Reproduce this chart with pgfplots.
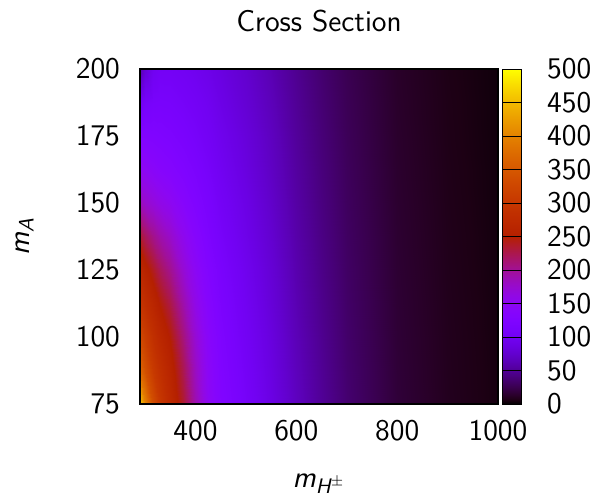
\documentclass[border=0pt]{standalone}
\usepackage{pgfplots}
\pgfplotsset{compat=1.18}
\pgfplotsset{
  myfont/.style={font=\sffamily\fontsize{15}{18}\selectfont,
    tick label style={font=\sffamily\fontsize{15}{18}\selectfont},
    /pgf/number format/assume math mode=true,
    /pgf/number format/set thousands separator={}},
}
\begin{document}
\begin{tikzpicture}
\useasboundingbox (-70pt,-45.5pt) rectangle (228.5pt,202pt);
\begin{axis}[
  myfont,
  at={(0,0)}, anchor=south west,
  scale only axis, width=179pt, height=167.5pt,
  xmin=290, xmax=1000, ymin=75, ymax=200,
  xtick={400,600,800,1000}, ytick={75,100,...,200},
  major tick length=0pt,
  xticklabel style={yshift=-4.5pt},
  yticklabel style={xshift=-6.5pt},
  title={Cross Section},
  title style={at={(axis description cs:0.5,1)}, anchor=base, yshift=13pt},
  xlabel={\itshape m\textsubscript{\itshape H$^{\pm}$}},
  xlabel style={at={(axis description cs:0.5,-0.2478)}, anchor=base},
  ylabel={\itshape m\textsubscript{\itshape A}},
  ylabel style={at={(axis description cs:-0.31,0.5)}, anchor=base},
  colormap={gp}{
    rgb(0pt)=(0,0,0) rgb(1pt)=(0.112,0,0.078) rgb(2pt)=(0.158,0,0.156)
    rgb(4pt)=(0.224,0,0.309) rgb(6pt)=(0.274,0,0.454) rgb(8pt)=(0.316,0.001,0.588)
    rgb(10pt)=(0.354,0.002,0.707) rgb(12pt)=(0.387,0.003,0.809) rgb(14pt)=(0.418,0.005,0.891)
    rgb(16pt)=(0.447,0.008,0.951) rgb(18pt)=(0.474,0.011,0.988) rgb(20pt)=(0.5,0.016,1)
    rgb(22pt)=(0.524,0.021,0.988) rgb(24pt)=(0.548,0.027,0.951) rgb(26pt)=(0.570,0.034,0.891)
    rgb(28pt)=(0.592,0.043,0.809) rgb(30pt)=(0.612,0.053,0.707) rgb(32pt)=(0.632,0.064,0.588)
    rgb(34pt)=(0.652,0.077,0.454) rgb(36pt)=(0.671,0.091,0.309) rgb(38pt)=(0.689,0.107,0.156)
    rgb(40pt)=(0.707,0.125,0) rgb(42pt)=(0.725,0.145,0) rgb(44pt)=(0.742,0.166,0)
    rgb(46pt)=(0.758,0.190,0) rgb(48pt)=(0.775,0.216,0) rgb(50pt)=(0.791,0.244,0)
    rgb(52pt)=(0.806,0.275,0) rgb(54pt)=(0.822,0.308,0) rgb(56pt)=(0.837,0.343,0)
    rgb(58pt)=(0.852,0.381,0) rgb(60pt)=(0.866,0.422,0) rgb(62pt)=(0.880,0.466,0)
    rgb(64pt)=(0.894,0.512,0) rgb(66pt)=(0.908,0.562,0) rgb(68pt)=(0.922,0.614,0)
    rgb(70pt)=(0.935,0.670,0) rgb(72pt)=(0.949,0.729,0) rgb(74pt)=(0.962,0.792,0)
    rgb(76pt)=(0.975,0.857,0) rgb(78pt)=(0.987,0.927,0) rgb(80pt)=(1,1,0)
  },
  point meta min=0, point meta max=500,
  colorbar,
  colorbar style={
    myfont,
    at={(parent axis.north east)}, anchor=north west, xshift=-6.5pt,
    scale only axis, width=9.5pt, height=167.5pt,
    ymin=0, ymax=500, ytick={0,50,...,500},
    ymajorgrids, grid style={black, line width=0.5pt},
    major tick length=0pt,
    yticklabel style={xshift=9.5pt, anchor=west},
    axis on top,
  },
  axis on top,
  axis line style={line width=0.8pt},
]
\addplot[surf, shader=interp, mesh/cols=17, point meta=explicit] table[x=x, y=y, meta=v] {
x y v
290 75 460
300 75 400
315 75 335
330 75 300
350 75 272
375 75 235
400 75 190
425 75 150
450 75 128
500 75 108
550 75 88
600 75 68
650 75 50
700 75 36
800 75 18
900 75 9.5
1000 75 5
290 87.5 370
300 87.5 340
315 87.5 305
330 87.5 285
350 87.5 262
375 87.5 225
400 87.5 182
425 87.5 146
450 87.5 125
500 87.5 105
550 87.5 86
600 87.5 66
650 87.5 49
700 87.5 35
800 87.5 17.5
900 87.5 9.2
1000 87.5 4.9
290 100 330
300 100 310
315 100 285
330 100 268
350 100 248
375 100 210
400 100 172
425 100 141
450 100 122
500 100 102
550 100 84
600 100 64
650 100 47.5
700 100 34
800 100 17
900 100 9
1000 100 4.7
290 112.5 295
300 112.5 283
315 112.5 265
330 112.5 248
350 112.5 228
375 112.5 192
400 112.5 160
425 112.5 135
450 112.5 118
500 112.5 99
550 112.5 81
600 112.5 62
650 112.5 46
700 112.5 33
800 112.5 16.5
900 112.5 8.7
1000 112.5 4.6
290 125 270
300 125 258
315 125 240
330 125 222
350 125 203
375 125 172
400 125 148
425 125 128
450 125 114
500 125 96
550 125 79
600 125 60
650 125 44.5
700 125 32
800 125 16
900 125 8.4
1000 125 4.4
290 137.5 235
300 137.5 222
315 137.5 205
330 137.5 192
350 137.5 178
375 137.5 155
400 137.5 137
425 137.5 121
450 137.5 109
500 137.5 92
550 137.5 76
600 137.5 58
650 137.5 43
700 137.5 31
800 137.5 15.5
900 137.5 8.1
1000 137.5 4.3
290 150 185
300 150 176
315 150 168
330 150 160
350 150 152
375 150 138
400 150 126
425 150 115
450 150 104
500 150 89
550 150 73
600 150 56
650 150 41.5
700 150 30
800 150 15
900 150 7.8
1000 150 4.1
290 162.5 152
300 162.5 150
315 162.5 143
330 162.5 138
350 162.5 133
375 162.5 125
400 162.5 118
425 162.5 109
450 162.5 99
500 162.5 85
550 162.5 70
600 162.5 54
650 162.5 40
700 162.5 29
800 162.5 14.5
900 162.5 7.5
1000 162.5 4
290 175 128
300 175 128
315 175 126
330 175 124
350 175 121
375 175 116
400 175 110
425 175 103
450 175 95
500 175 82
550 175 68
600 175 52
650 175 38.5
700 175 28
800 175 14
900 175 7.2
1000 175 3.8
290 187.5 100
300 187.5 108
315 187.5 112
330 187.5 113
350 187.5 112
375 187.5 108
400 187.5 104
425 187.5 98
450 187.5 90
500 187.5 78
550 187.5 65
600 187.5 50
650 187.5 37
700 187.5 27
800 187.5 13.5
900 187.5 7
1000 187.5 3.7
290 200 60
300 200 80
315 200 98
330 200 104
350 200 104
375 200 101
400 200 97
425 200 92
450 200 86
500 200 75
550 200 62
600 200 48
650 200 35.5
700 200 26
800 200 13
900 200 6.7
1000 200 3.6
};
\end{axis}
\end{tikzpicture}
\end{document}
